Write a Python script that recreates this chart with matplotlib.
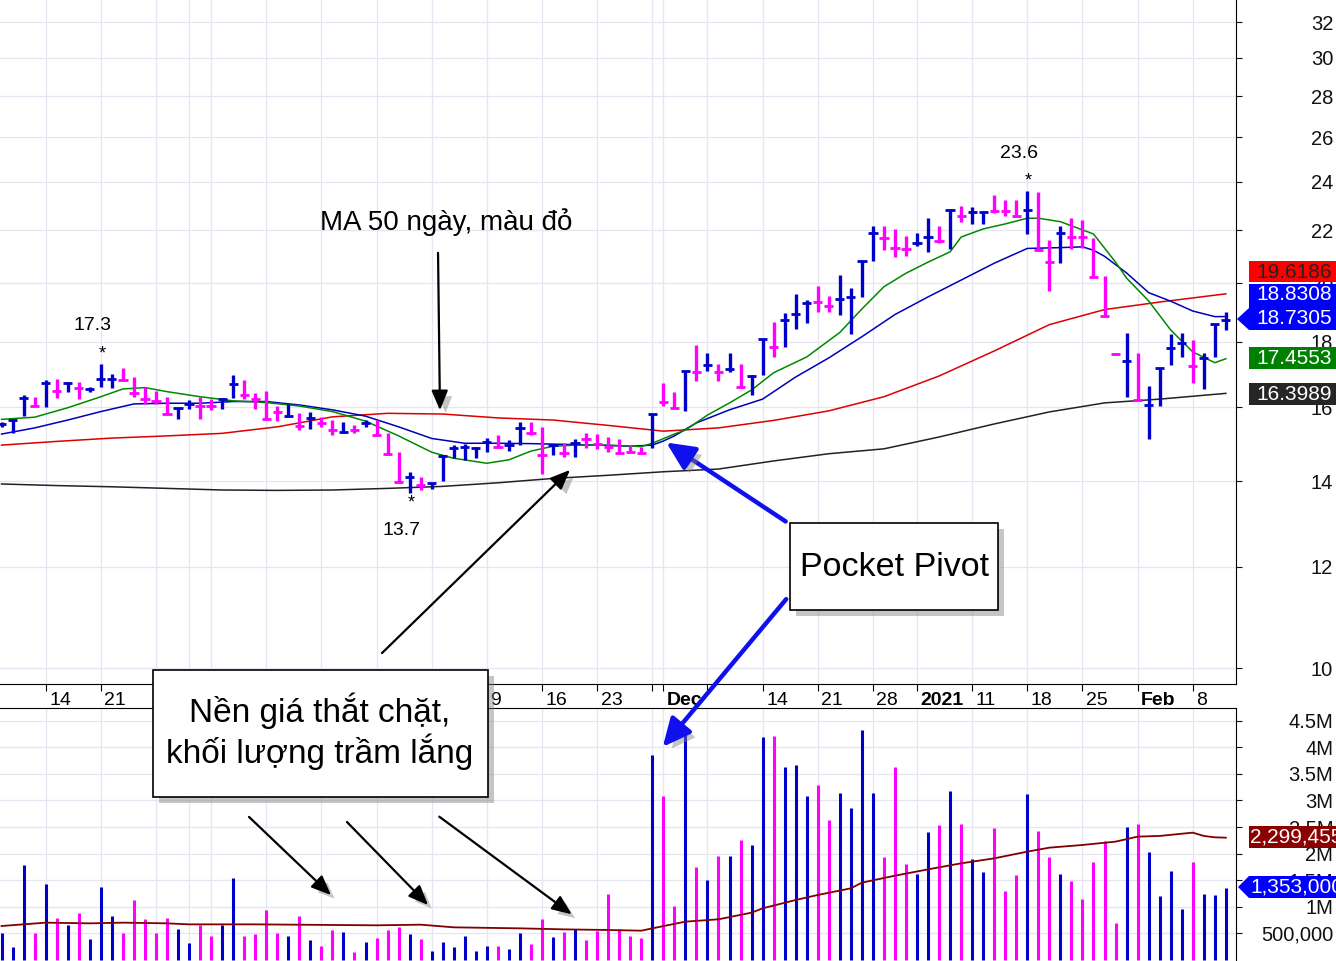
import numpy as np
import matplotlib
matplotlib.use("Agg")
import matplotlib.pyplot as plt
from matplotlib.patches import Rectangle, Polygon, FancyArrowPatch
import matplotlib.patheffects as pe
from matplotlib.ticker import NullLocator
from matplotlib.transforms import ScaledTranslation

plt.rcParams['font.family'] = ['Liberation Sans', 'DejaVu Sans']

#####################################################################################
# daily bars, Sep 8 2020 .. Feb 11 2021 (one entry per trading day)
high = [15.58, 15.65, 16.35, 16.30, 16.80, 16.82, 16.75, 16.75, 16.58, 17.30,
        16.97, 17.16, 16.90, 16.58, 16.47, 16.30, 15.97, 16.21, 16.30, 16.23,
        16.25, 16.95, 16.80, 16.42, 16.47, 16.02, 16.09, 15.83, 15.87, 15.71,
        15.63, 15.58, 15.49, 15.63, 15.63, 15.28, 14.75, 14.24, 14.11, 13.96,
        14.67, 14.94, 14.97, 14.90, 15.12, 15.22, 15.08, 15.58, 15.58, 15.44,
        14.97, 14.99, 15.10, 15.26, 15.24, 15.17, 15.10, 14.94, 14.90, 15.80,
        16.70, 16.43, 17.08, 17.88, 17.63, 17.30, 17.63, 17.30, 16.94, 18.08,
        18.64, 18.94, 19.61, 19.39, 19.89, 19.54, 20.29, 19.82, 20.82, 22.17,
        22.17, 22.05, 21.77, 21.90, 22.48, 22.17, 22.85, 22.96, 22.93, 22.77,
        23.43, 23.23, 23.23, 23.60, 23.55, 21.61, 22.17, 22.47, 22.41, 21.68,
        20.27, 17.65, 18.27, 17.63, 16.62, 17.18, 18.24, 18.27, 18.05, 17.63,
        18.58, 18.99]
low = [15.44, 15.26, 15.74, 16.02, 16.00, 16.27, 16.45, 16.23, 16.45, 16.58,
       16.55, 16.78, 16.30, 16.09, 16.09, 15.80, 15.65, 15.94, 15.65, 15.92,
       15.94, 16.25, 16.23, 15.94, 15.65, 15.61, 15.71, 15.34, 15.38, 15.43,
       15.22, 15.26, 15.28, 15.44, 15.21, 14.67, 13.96, 13.70, 13.78, 13.80,
       14.01, 14.59, 14.55, 14.59, 14.76, 14.86, 14.79, 14.94, 15.22, 14.19,
       14.67, 14.63, 14.63, 14.86, 14.83, 14.76, 14.72, 14.72, 14.72, 14.86,
       16.02, 15.95, 15.90, 16.78, 17.08, 16.78, 17.05, 16.58, 16.36, 16.95,
       17.50, 17.83, 18.43, 18.61, 18.97, 18.97, 18.90, 18.24, 19.52, 20.80,
       21.22, 20.98, 21.01, 21.38, 21.16, 21.51, 21.26, 22.32, 22.24, 22.24,
       22.71, 22.58, 22.53, 21.85, 21.22, 19.72, 20.72, 21.26, 21.30, 20.21,
       18.83, 17.57, 16.30, 16.19, 15.10, 16.04, 17.25, 17.52, 16.70, 16.52,
       17.52, 18.37]
close = [15.51, 15.63, 16.25, 16.03, 16.70, 16.47, 16.70, 16.55, 16.52, 16.82,
         16.83, 16.80, 16.40, 16.23, 16.18, 15.81, 15.97, 16.09, 16.03, 16.02,
         16.23, 16.67, 16.35, 16.23, 15.66, 15.87, 15.74, 15.47, 15.68, 15.54,
         15.35, 15.31, 15.35, 15.55, 15.22, 14.69, 13.99, 14.11, 13.90, 13.95,
         14.65, 14.86, 14.88, 14.86, 15.03, 14.90, 14.94, 15.40, 15.26, 14.67,
         14.94, 14.72, 15.01, 15.10, 14.97, 14.90, 14.73, 14.76, 14.73, 15.80,
         16.16, 15.97, 17.08, 17.05, 17.26, 17.05, 17.14, 16.60, 16.92, 18.07,
         17.82, 18.72, 18.92, 19.31, 19.34, 19.19, 19.42, 19.49, 20.82, 21.89,
         21.68, 21.30, 21.27, 21.48, 21.74, 21.57, 22.82, 22.55, 22.73, 22.75,
         22.77, 22.77, 22.58, 22.82, 21.24, 20.78, 21.89, 21.74, 21.74, 20.23,
         18.85, 17.61, 17.39, 16.21, 16.06, 17.16, 17.81, 17.94, 17.22, 17.47,
         18.58, 18.7305]
# 1 = up bar (blue), 0 = down bar (magenta)
up = [1, 1, 1, 0, 1, 0, 1, 0, 1, 1,
      1, 0, 0, 0, 0, 0, 1, 1, 0, 0,
      1, 1, 0, 0, 0, 0, 1, 0, 1, 0,
      0, 1, 0, 1, 0, 0, 0, 1, 0, 1,
      1, 1, 1, 1, 1, 0, 1, 1, 0, 0,
      1, 0, 1, 0, 0, 0, 0, 0, 0, 1,
      0, 0, 1, 0, 1, 0, 1, 0, 1, 1,
      0, 1, 1, 1, 0, 0, 1, 1, 1, 1,
      0, 0, 0, 1, 1, 0, 1, 0, 1, 1,
      0, 0, 0, 1, 0, 0, 1, 0, 0, 0,
      0, 0, 1, 0, 1, 1, 1, 1, 0, 1,
      1, 1]
# volume in thousands of shares
volume = [500, 238, 1790, 500, 1430, 783, 658, 884, 395, 1370,
          827, 500, 1130, 764, 500, 783, 576, 313, 652, 451,
          658, 1550, 451, 489, 940, 500, 451, 827, 376, 263,
          564, 526, 150, 338, 414, 564, 614, 489, 395, 169,
          338, 238, 451, 169, 263, 263, 213, 500, 301, 771,
          432, 526, 576, 376, 551, 1240, 576, 451, 407, 3853,
          3083, 1015, 4374, 1754, 1504, 1955, 1955, 2256, 2162, 4186,
          4211, 3622, 3665, 3083, 3289, 2632, 3133, 2851, 4323, 3133,
          1942, 3622, 1805, 1617, 2406, 2538, 3183, 2556, 1899, 1654,
          2481, 1297, 1598, 3120, 2425, 1942, 1617, 1485, 1147, 1842,
          2237, 689, 2506, 2556, 2030, 1203, 1673, 959, 1842, 1247,
          1228, 1353]

# moving averages (bar index, value)
ma200_x = [0, 5, 10, 15, 20, 25, 30, 35, 40, 45, 50, 55, 60, 65, 70, 75, 80, 85, 90, 95, 100, 105, 111]
ma200 = [13.93, 13.89, 13.86, 13.82, 13.78, 13.77, 13.78, 13.82, 13.87, 13.96, 14.07, 14.15,
         14.24, 14.31, 14.52, 14.71, 14.84, 15.16, 15.52, 15.86, 16.12, 16.23, 16.3989]
ma50_x = ma200_x
ma50 = [14.94, 15.04, 15.13, 15.19, 15.26, 15.44, 15.72, 15.82, 15.80, 15.69, 15.63, 15.48,
        15.32, 15.41, 15.62, 15.89, 16.30, 16.92, 17.70, 18.56, 19.07, 19.33, 19.6186]
ma20_x = [0, 3, 6, 9, 12, 15, 18, 21, 24, 27, 30, 33, 36, 39, 42, 45, 48, 51, 54, 57, 59, 60,
          61, 63, 66, 69, 72, 75, 78, 81, 84, 87, 90, 93, 96, 98, 99, 100, 102, 104, 106, 108, 110, 111]
ma20 = [15.24, 15.41, 15.63, 15.87, 16.09, 16.11, 16.11, 16.16, 16.16, 16.06,
        15.92, 15.74, 15.44, 15.12, 14.99, 14.99, 14.98, 14.96, 14.94, 14.91,
        14.94, 15.05, 15.19, 15.55, 15.92, 16.23, 16.89, 17.48, 18.16, 18.90,
        19.51, 20.11, 20.73, 21.29, 21.32, 21.35, 21.22, 20.99, 20.37, 19.66,
        19.36, 19.02, 18.83, 18.8308]
ma10_x = [0, 3, 6, 9, 11, 13, 15, 18, 21, 24, 27, 30, 33, 36, 39, 41, 44, 46, 48, 50,
          52, 55, 58, 59, 61, 62, 64, 66, 68, 70, 73, 76, 78, 80, 82, 84, 86, 87, 89, 91,
          93, 94, 96, 99, 101, 102, 104, 106, 108, 110, 111]
ma10 = [15.65, 15.71, 15.98, 16.30, 16.53, 16.57, 16.45, 16.30, 16.18, 16.13,
        16.03, 15.87, 15.60, 15.19, 14.75, 14.59, 14.46, 14.55, 14.78, 14.91,
        14.94, 14.94, 14.90, 14.99, 15.24, 15.35, 15.77, 16.12, 16.50, 17.02,
        17.51, 18.30, 19.09, 19.87, 20.36, 20.77, 21.16, 21.73, 22.05, 22.25,
        22.48, 22.48, 22.34, 21.85, 20.77, 20.18, 19.37, 18.38, 17.67, 17.33,
        17.4553]
vma_x = [0, 4, 8, 11, 15, 17, 23, 34, 38, 41, 47, 51, 55, 58, 59, 62, 65, 68, 69, 72,
         74, 77, 78, 81, 84, 87, 90, 93, 95, 98, 101, 103, 105, 108, 109, 110, 111]
vma = [639000, 702000, 689000, 702000, 689000, 670000, 670000, 652000, 664000, 614000,
       595000, 576000, 564000, 551000, 595000, 721000, 765000, 890000, 971000, 1128000,
       1222000, 1347000, 1454000, 1585000, 1704000, 1817000, 1911000, 2037000, 2112000, 2162000,
       2225000, 2319000, 2332000, 2394000, 2332000, 2306000, 2299455]

# axis ticks (labels hidden behind the callout box are left blank)
date_idx = [4, 9, 14, 17, 19, 24, 29, 34, 39, 44, 49, 54, 59, 60, 64, 69, 74, 79, 83, 88, 93, 98, 103, 108]
date_lab = ['14', '21', '', '', '', '', '', '', '', '9', '16', '23', '',
            'Dec', '', '14', '21', '28', '2021', '11', '18', '25', 'Feb', '8']
month_lab = ['Oct', 'Nov', 'Dec', '2021', 'Feb']
price_ticks = [10, 12, 14, 16, 18, 20, 22, 24, 26, 28, 30, 32]
vol_ticks = [500000, 1000000, 1500000, 2000000, 2500000, 3000000, 3500000, 4000000, 4500000]
vol_lab = ['500,000', '1M', '1.5M', '2M', '2.5M', '3M', '3.5M', '4M', '4.5M']

#####################################################################################
BLUE = '#0000cc'
MAG = '#ff00ff'
GRID = '#e6e6f2'
W, H = 1336, 961

fig = plt.figure(figsize=(W / 100, H / 100), dpi=100)
ax = fig.add_axes([0, (H - 684) / H, 1236 / W, 684 / H])
axv = fig.add_axes([0, 0, 1236 / W, (H - 708) / H])

x = np.arange(len(close))
cols = [BLUE if u else MAG for u in up]

# price bars and averages
ax.plot(ma200_x, ma200, color='#222222', lw=1.1, zorder=2)
ax.plot(ma50_x, ma50, color='#dd0000', lw=1.1, zorder=2)
ax.plot(ma20_x, ma20, color='#0000bb', lw=1.1, zorder=2)
ax.plot(ma10_x, ma10, color='#008800', lw=1.1, zorder=2)
ax.vlines(x, low, high, colors=cols, lw=2.4, zorder=3)
ax.hlines(close, x - 0.42, x + 0.42, colors=cols, lw=2.0, zorder=3)

ax.set_yscale('log')
ax.set_ylim(9.717, 33.3)
ax.set_xlim(-0.14, 111.92)
ax.yaxis.tick_right()
ax.set_yticks(price_ticks, labels=[str(t) for t in price_ticks], ha='right')
ax.yaxis.set_minor_locator(NullLocator())
ax.tick_params(axis='y', direction='out', length=4, pad=66, labelsize=14.5, colors='#111111')
ax.set_xticks(date_idx, labels=date_lab, ha='left')
ax.tick_params(axis='x', direction='out', length=5, pad=1, labelsize=14)
shift = ScaledTranslation(2.5 / 72, 0, fig.dpi_scale_trans)
for lab in ax.get_xticklabels():
    lab.set_transform(lab.get_transform() + shift)
    if lab.get_text() in month_lab:
        lab.set_fontweight('bold')
ax.grid(True, color=GRID, lw=0.9, zorder=0)
ax.set_axisbelow(True)
for s in ['top', 'left']:
    ax.spines[s].set_visible(False)

# volume panel
axv.vlines(x, 0, np.array(volume) * 1000, colors=cols, lw=2.2, zorder=3)
axv.plot(vma_x, vma, color='#800000', lw=1.3, zorder=4)
axv.set_xlim(ax.get_xlim())
axv.set_ylim(-18800, 4.737e6)
axv.yaxis.tick_right()
axv.set_yticks(vol_ticks, labels=vol_lab, ha='right')
axv.tick_params(axis='y', direction='out', length=4, pad=66, labelsize=14.5, colors='#111111')
axv.set_xticks(date_idx)
axv.tick_params(axis='x', length=0, labelbottom=False)
axv.grid(True, color=GRID, lw=0.9, zorder=0)
axv.set_axisbelow(True)
for s in ['left', 'bottom']:
    axv.spines[s].set_visible(False)

# high / low markers
for i, val, dy in [(9, high[9], 1), (37, low[37], -1), (93, high[93], 1)]:
    va = 'bottom' if dy > 0 else 'top'
    ax.annotate('*', xy=(i, val), xytext=(1, 1 * dy), textcoords='offset points',
                ha='center', va=va, fontsize=13)
    ax.annotate(f'{val:.1f}', xy=(i, val), xytext=(-6, 21 * dy), textcoords='offset points',
                ha='center', va=va, fontsize=14)

#####################################################################################
# overlay in pixel coordinates for callouts and value tags
ov = fig.add_axes([0, 0, 1, 1], zorder=5)
ov.set_xlim(0, W)
ov.set_ylim(H, 0)
ov.axis('off')
shadow = [pe.SimplePatchShadow(offset=(4, -4), shadow_rgbFace='#808080', alpha=0.45), pe.Normal()]


def arrow(p0, p1, color='black', lw=1.6, hl=12, hw=5):
    a = FancyArrowPatch(p0, p1, arrowstyle=f'-|>,head_length={hl},head_width={hw}',
                        mutation_scale=1, lw=lw, color=color, path_effects=shadow)
    ov.add_patch(a)


ov.text(446, 222, 'MA 50 ngày, màu đỏ', fontsize=20, ha='center', va='center')
arrow((438, 250), (440, 413))
arrow((380, 655), (572, 468))

ov.add_patch(Rectangle((790, 523), 208, 87, fc='white', ec='black', lw=1.2, path_effects=shadow))
ov.text(895, 567, 'Pocket Pivot', fontsize=24.5, ha='center', va='center')
arrow((788, 523), (664, 441), color='#1010ee', lw=3.2, hl=17, hw=8)
arrow((788, 597), (661, 749), color='#1010ee', lw=3.2, hl=17, hw=8)

ov.add_patch(Rectangle((153, 670), 335, 127, fc='white', ec='black', lw=1.2, path_effects=shadow))
ov.text(320, 731, 'Nền giá thắt chặt,\nkhối lượng trầm lắng', fontsize=24,
        ha='center', va='center', linespacing=1.15)
arrow((247, 815), (333, 897))
arrow((345, 820), (430, 907))
arrow((437, 815), (574, 916))

# value tags on the right axis
ov.add_patch(Rectangle((1249, 261), 90, 21, fc='#ff0000', ec='none'))
ov.text(1256, 272, f'{ma50[-1]:.4f}', fontsize=15, color='#222222', va='center')
ov.add_patch(Polygon([(1249, 284), (1340, 284), (1340, 330), (1249, 330), (1237, 319), (1249, 308)],
                     closed=True, fc='#0000ff', ec='none'))
ov.text(1256, 295, f'{ma20[-1]:.4f}', fontsize=15, color='white', va='center')
ov.text(1256, 319, f'{close[-1]:.4f}', fontsize=15, color='white', va='center')
ov.add_patch(Rectangle((1249, 347), 90, 22, fc='#008000', ec='none'))
ov.text(1256, 358, f'{ma10[-1]:.4f}', fontsize=15, color='white', va='center')
ov.add_patch(Rectangle((1249, 383), 90, 22, fc='#262626', ec='none'))
ov.text(1256, 394, f'{ma200[-1]:.4f}', fontsize=15, color='white', va='center')
ov.add_patch(Rectangle((1249, 826), 90, 22, fc='#8b0000', ec='none'))
ov.text(1250, 837, f'{int(vma[-1]):,}', fontsize=15, color='white', va='center')
ov.add_patch(Polygon([(1249, 876), (1340, 876), (1340, 898), (1249, 898), (1238, 887)],
                     closed=True, fc='#0000ff', ec='none'))
ov.text(1250, 887, f'{volume[-1] * 1000:,}', fontsize=15, color='white', va='center')

fig.savefig('out.png', dpi=100)
